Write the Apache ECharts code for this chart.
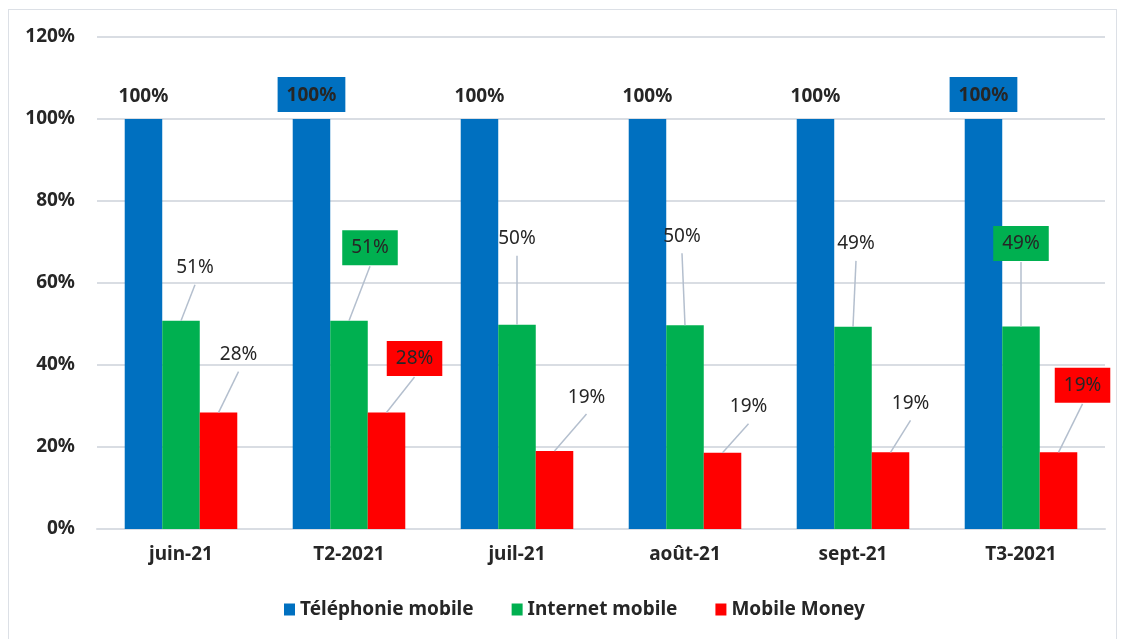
<!DOCTYPE html>
<html>
<head>
<meta charset="utf-8">
<script src="https://cdn.jsdelivr.net/npm/echarts@6/dist/echarts.min.js"></script>
<style>
html,body{margin:0;padding:0;background:#fff;}
#frame{position:absolute;left:8px;top:9px;width:1109px;height:650px;border:1px solid #DCE0E6;box-sizing:border-box;}
#chart{position:absolute;left:0;top:0;width:1123px;height:639px;}
</style>
</head>
<body>
<div id="frame"></div>
<div id="chart"></div>
<script>
const categories = ['juin-21', 'T2-2021', 'juil-21', 'août-21', 'sept-21', 'T3-2021'];
const telephonieMobile = [100, 100, 100, 100, 100, 100];
const internetMobile = [50.8, 50.8, 49.8, 49.7, 49.3, 49.4];
const mobileMoney = [28.4, 28.4, 19.0, 18.6, 18.7, 18.7];
const yTicks = ['0%', '20%', '40%', '60%', '80%', '100%', '120%'];

// label placement (style): offset of label centre from bar-top centre, in px
const highlighted = [false, true, false, false, false, true];
const greenShift = [[14, -53], [21, -73], [0, -86], [-3, -89], [3, -83], [0, -83]];
const redShift = [[20, -58], [28, -54], [32, -54], [26, -46], [20, -49], [24, -67]];

const FONT = '"Noto Sans", sans-serif';
const BLUE = '#0070C0', GREEN = '#00B050', RED = '#FF0000';
const LINE = '#B4BFCE';
const CAT_GAP = 0.33;
const BOX_PAD = [9, 9, 7, 9];
const fmt = p => Math.round(p.value) + '%';

function labelSeries(name, values, shifts, color, slot) {
  return {
    name: name, type: 'custom', coordinateSystem: 'cartesian2d', z: 5, silent: true,
    data: values.map((v, i) => [i, v]),
    renderItem: (params, api) => {
      const i = api.value(0), v = api.value(1);
      const pt = api.coord([i, v]);
      const band = api.size([1, 0])[0];
      const barW = band * (1 - CAT_GAP) / 3;
      const bx = pt[0] + (slot - 1) * barW;
      const by = pt[1];
      const s = shifts[i];
      const lx = bx + s[0], ly = by + s[1];
      const boxed = highlighted[i];
      const startY = ly + (boxed ? 18.5 : 17);
      const style = {
        text: Math.round(v) + '%', x: lx, y: ly, align: 'center', verticalAlign: 'middle',
        fontFamily: FONT, fontSize: 19, fill: '#262626'
      };
      if (boxed) { style.backgroundColor = color; style.padding = BOX_PAD; }
      return {
        type: 'group',
        children: [
          { type: 'line', shape: { x1: lx, y1: startY, x2: bx, y2: by }, style: { stroke: LINE, lineWidth: 1.5 } },
          { type: 'text', style: style }
        ]
      };
    }
  };
}

const chart = echarts.init(document.getElementById('chart'));
chart.setOption({
  animation: false,
  textStyle: { fontFamily: FONT },
  grid: { left: 97, right: 18, top: 37, bottom: 110 },
  legend: {
    bottom: 15,
    left: 279,
    itemWidth: 11,
    itemHeight: 12,
    itemGap: 38,
    icon: 'rect',
    textStyle: { fontFamily: FONT, fontSize: 19, fontWeight: 'bold', color: '#262626' },
    data: ['Téléphonie mobile', 'Internet mobile', 'Mobile Money']
  },
  xAxis: {
    type: 'category',
    data: categories,
    axisLine: { show: true, lineStyle: { color: '#D9DDE3', width: 2 } },
    axisTick: { show: false },
    axisLabel: { fontFamily: FONT, fontSize: 19, fontWeight: 'bold', color: '#262626', margin: 16 }
  },
  yAxis: {
    type: 'value',
    min: 0, max: 120, interval: 20,
    axisLine: { show: false },
    axisTick: { show: false },
    splitLine: { lineStyle: { color: '#D9DDE3', width: 2 } },
    axisLabel: {
      fontFamily: FONT, fontSize: 19, fontWeight: 'bold', color: '#262626', margin: 22,
      formatter: v => yTicks[Math.round(v / 20)]
    }
  },
  series: [
    {
      name: 'Téléphonie mobile', type: 'bar', barGap: '0%', barCategoryGap: '33%',
      itemStyle: { color: BLUE },
      data: telephonieMobile.map((v, i) => {
        const d = { value: v };
        if (highlighted[i]) d.label = { backgroundColor: BLUE, padding: BOX_PAD, distance: 7 };
        return d;
      }),
      label: {
        show: true, position: 'top', distance: 13, formatter: fmt,
        fontFamily: FONT, fontSize: 19, fontWeight: 'bold', color: '#262626'
      }
    },
    {
      name: 'Internet mobile', type: 'bar',
      itemStyle: { color: GREEN },
      data: internetMobile
    },
    {
      name: 'Mobile Money', type: 'bar',
      itemStyle: { color: RED },
      data: mobileMoney
    },
    labelSeries('labels-internet', internetMobile, greenShift, GREEN, 1),
    labelSeries('labels-money', mobileMoney, redShift, RED, 2)
  ]
});
</script>
</body>
</html>
